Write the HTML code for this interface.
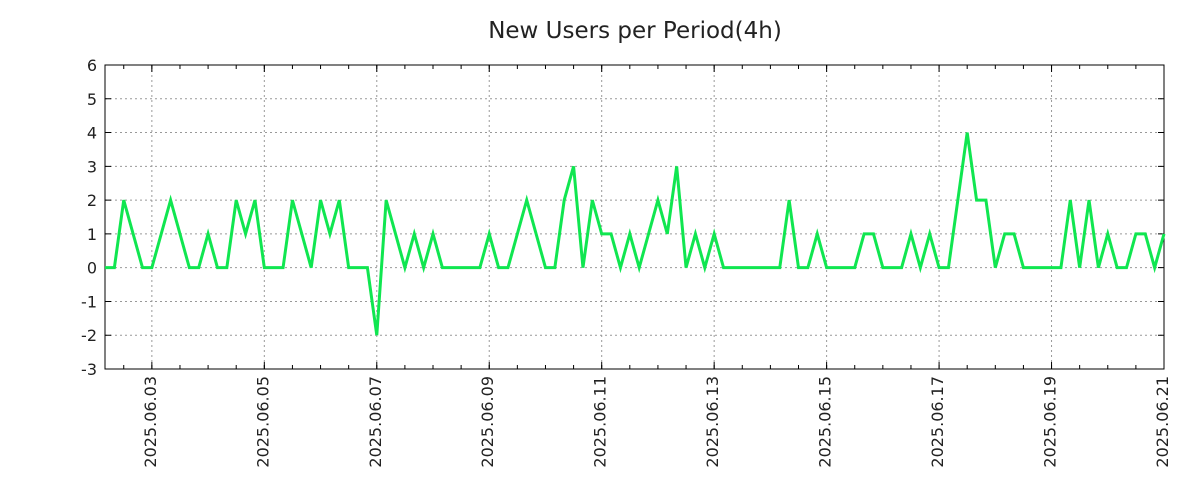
<!DOCTYPE html>
<html><head><meta charset="utf-8"><style>
body{margin:0;background:#fff;}
svg{display:block;font-family:"DejaVu Sans","Liberation Sans",sans-serif;}
</style></head><body>
<svg id="chart" width="1200" height="500" xmlns="http://www.w3.org/2000/svg">
<rect width="1200" height="500" fill="#fff"/>
<text x="635" y="38" text-anchor="middle" font-size="23" fill="#222">New Users per Period(4h)</text>
<g id="grid"></g><g id="axes"></g><g id="series"></g>
</svg>
<script>
const values = [0,0,2,1,0,0,1,2,1,0,0,1,0,0,2,1,2,0,0,0,2,1,0,2,1,2,0,0,0,-2,2,1,0,1,0,1,0,0,0,0,0,1,0,0,1,2,1,0,0,2,3,0,2,1,1,0,1,0,1,2,1,3,0,1,0,1,0,0,0,0,0,0,0,2,0,0,1,0,0,0,0,1,1,0,0,0,1,0,1,0,0,2,4,2,2,0,1,1,0,0,0,0,0,2,0,2,0,1,0,0,1,1,0,1];
const yTicks = [-3,-2,-1,0,1,2,3,4,5,6];
const xTickLabels = ["2025.06.03","2025.06.05","2025.06.07","2025.06.09","2025.06.11","2025.06.13","2025.06.15","2025.06.17","2025.06.19","2025.06.21"];
const firstLabelIndex = 5;
const stepsPerLabel = 12;
const L=105,R=1164,T=65,B=369, yMin=-3,yMax=6;
const NS="http://www.w3.org/2000/svg";
const xs=i=>L+(R-L)*i/(values.length-1);
const ys=v=>B-(B-T)*(v-yMin)/(yMax-yMin);
function mk(tag,attrs,parent,text){const e=document.createElementNS(NS,tag);for(const k in attrs)e.setAttribute(k,attrs[k]);if(text!==undefined)e.textContent=text;parent.appendChild(e);return e;}
const grid=document.getElementById('grid'),axes=document.getElementById('axes'),series=document.getElementById('series');
yTicks.forEach(t=>{const y=ys(t);
 if(t>yMin&&t<yMax){const g=mk('line',{x1:L,x2:R,y1:y,y2:y,stroke:'#999','stroke-dasharray':'2,3','stroke-width':1},grid);
 
 }
 const tk=mk('path',{d:`M${L},${y}h6M${R},${y}h-6`,stroke:'#000'},axes);
 
 
 const lb=mk('text',{x:97,y:y+6,'text-anchor':'end','font-size':16,fill:'#222'},axes,String(t));
 
 
});
for(let i=firstLabelIndex-3;i<values.length;i+=3){const x=xs(i);
 const mt=mk('path',{d:`M${x},${B}v-4M${x},${T}v4`,stroke:'#000'},axes);
 
 }
xTickLabels.forEach((s,k)=>{const x=xs(firstLabelIndex+k*stepsPerLabel);
 const g=mk('line',{x1:x,x2:x,y1:T,y2:B,stroke:'#999','stroke-dasharray':'2,3'},grid);
 
 
 const tk=mk('path',{d:`M${x},${B}v-7M${x},${T}v7`,stroke:'#000'},axes);
 
 
 const lb=mk('text',{x:0,y:0,'font-size':16,fill:'#222','text-anchor':'end',transform:`translate(${x+4},376) rotate(-90)`},axes,s);
 
 
});
const fr=mk('rect',{x:L,y:T,width:R-L,height:B-T,fill:'none',stroke:'#000','stroke-width':1},axes);


const pts=values.map((v,i)=>`${xs(i).toFixed(2)},${ys(v).toFixed(2)}`).join(' ');
const pl=mk('polyline',{points:pts,fill:'none',stroke:'#10e650','stroke-width':3,'stroke-linejoin':'miter'},series);


</script>
</body></html>
